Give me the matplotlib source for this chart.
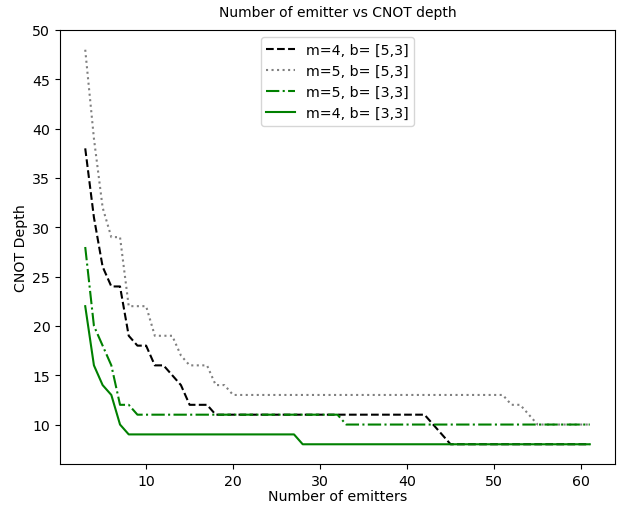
import numpy as np
import matplotlib
matplotlib.use('Agg')
import matplotlib.pyplot as plt

# Number of emitters (x axis)
emitters = list(range(3, 62))

# CNOT depth for each configuration
depth_m4_b53 = [38, 31, 26, 24, 24, 19, 18, 18, 16, 16, 15, 14, 12, 12, 12] + [11] * 25 + [10, 9] + [8] * 17
depth_m5_b53 = [48, 39, 32, 29, 29, 22, 22, 22, 19, 19, 19, 17, 16, 16, 16, 14, 14] + [13] * 32 + [12, 12, 11] + [10] * 7
depth_m5_b33 = [28, 20, 18, 16, 12, 12] + [11] * 24 + [10] * 29
depth_m4_b33 = [22, 16, 14, 13, 10] + [9] * 20 + [8] * 34

labels = ['m=4, b= [5,3]', 'm=5, b= [5,3]', 'm=5, b= [3,3]', 'm=4, b= [3,3]']

plt.rcParams['font.size'] = 10.2

fig, ax = plt.subplots(figsize=(6.31, 5.06), dpi=100)
fig.subplots_adjust(left=60/631, right=615/631, top=1-31/506, bottom=1-465/506)

ax.plot(emitters, depth_m4_b53, '--', color='black', label=labels[0])
ax.plot(emitters, depth_m5_b53, ':', color='gray', label=labels[1])
ax.plot(emitters, depth_m5_b33, '-.', color='green', label=labels[2])
ax.plot(emitters, depth_m4_b33, '-', color='green', label=labels[3])

ax.set_xlabel('Number of emitters', labelpad=1)
ax.set_ylabel('CNOT Depth', labelpad=3)
ax.set_title('Number of emitter vs CNOT depth', fontsize=10, pad=10)
ax.legend(loc='upper center')

plt.savefig('out.png', dpi=100)
